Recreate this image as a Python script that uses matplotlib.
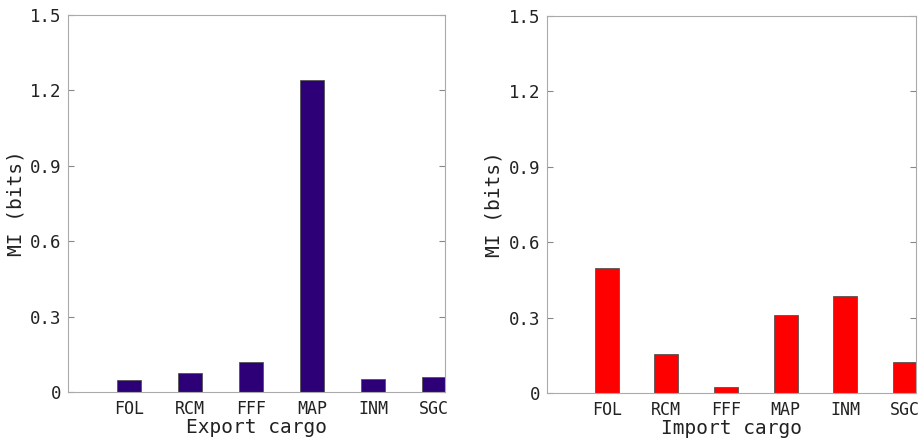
import matplotlib.pyplot as plt

categories = ["FOL", "RCM", "FFF", "MAP", "INM", "SGC"]
export_mi = [0.048, 0.074, 0.121, 1.240, 0.052, 0.061]
import_mi = [0.499, 0.153, 0.024, 0.312, 0.385, 0.122]
y_ticks = [0, 0.3, 0.6, 0.9, 1.2, 1.5]
y_tick_labels = ["0", "0.3", "0.6", "0.9", "1.2", "1.5"]

plt.rcParams['font.family'] = 'DejaVu Sans Mono'

fig = plt.figure(figsize=(9.24, 4.42), dpi=100)
ax1 = fig.add_axes([0.0736, 0.113, 0.408, 0.853])
ax2 = fig.add_axes([0.592, 0.111, 0.399, 0.853])

panels = [(ax1, export_mi, "#2e0078", "Export cargo", -0.112),
          (ax2, import_mi, "#ff0000", "Import cargo", -0.117)]

for ax, values, color, xlabel, ylab_x in panels:
    positions = range(1, len(categories) + 1)
    ax.bar(positions, values, width=0.4, color=color, edgecolor="#555555", linewidth=0.6)
    ax.set_xlim(0, 6.18)
    ax.set_ylim(0, 1.5)
    ax.set_xticks(list(positions))
    ax.set_xticklabels(categories, fontsize=12)
    ax.set_yticks(y_ticks)
    ax.set_yticklabels(y_tick_labels, fontsize=12.5)
    ax.set_xlabel(xlabel, fontsize=14, color="#222222")
    ax.set_ylabel("MI (bits)", fontsize=14, color="#222222")
    ax.xaxis.set_label_coords(0.5, -0.07)
    ax.yaxis.set_label_coords(ylab_x, 0.5)
    ax.tick_params(axis='both', direction='in', length=4, color="#888888",
                   labelcolor="#222222", right=True, top=False)
    ax.tick_params(axis='x', length=0, pad=6)
    ax.tick_params(axis='y', pad=5)
    for spine in ax.spines.values():
        spine.set_color("#aaaaaa")
        spine.set_linewidth(0.8)

plt.savefig("out.png", dpi=100)
